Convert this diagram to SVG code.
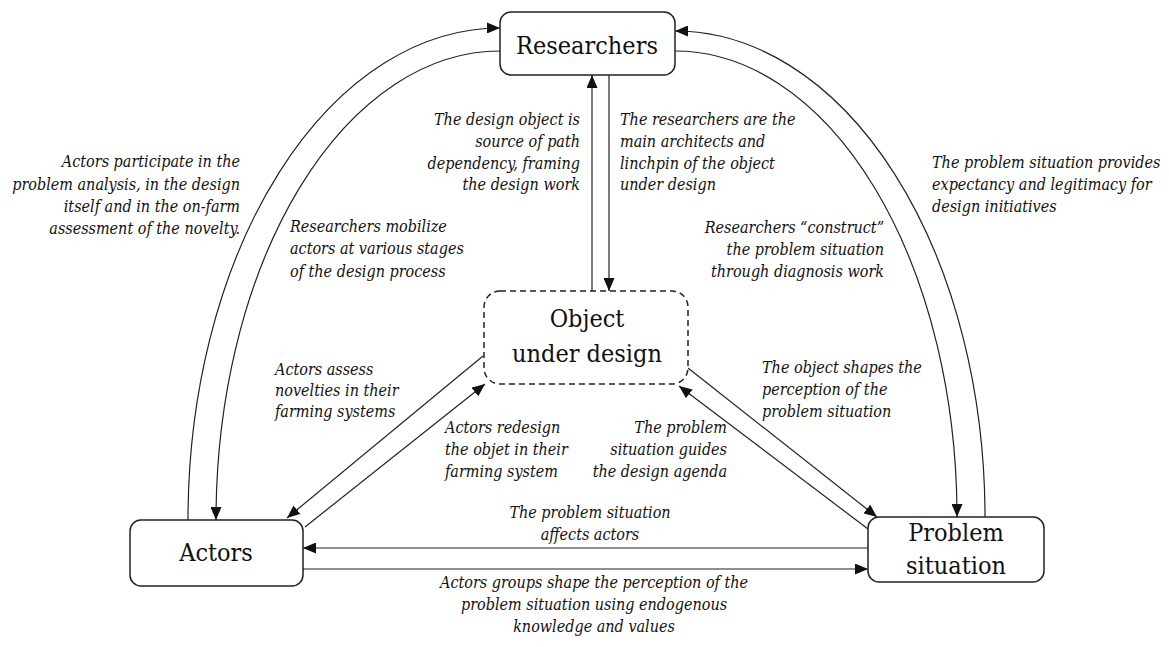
<svg xmlns="http://www.w3.org/2000/svg" width="1169" height="647" viewBox="0 0 1169 647">
<style>
.box{fill:#fff;stroke:#222;stroke-width:1.5}
.dash{fill:#fff;stroke:#222;stroke-width:1.5;stroke-dasharray:6,4}
.nt{font-size:25px;fill:#111;text-anchor:middle}
.lb{font-size:16px;font-style:italic;fill:#111}
.r{text-anchor:end}
.m{text-anchor:middle}
.c{fill:none;stroke:#222;stroke-width:1.2;marker-end:url(#ah)}
</style>
<defs>
<marker id="ah" markerUnits="userSpaceOnUse" markerWidth="13" markerHeight="11" refX="13" refY="5.5" orient="auto">
<path d="M0,0 L13,5.5 L0,11 z" fill="#111"/>
</marker>
</defs>
<g id="connectors">
<path class="c" d="M188,520 A312,492 0 0 1 500,28"/>
<path class="c" d="M500,51 A284,469 0 0 0 216,520"/>
<path class="c" d="M985,517 A310,486 0 0 0 675,31"/>
<path class="c" d="M675,51 A282,466 0 0 1 957,517"/>
<path class="c" d="M592,291 L592,75"/>
<path class="c" d="M609,75 L609,291"/>
<path class="c" d="M483,356 L287,518"/>
<path class="c" d="M305,527 L485,384"/>
<path class="c" d="M688,368 L877,517"/>
<path class="c" d="M868,529 L679,386"/>
<path class="c" d="M868,548 L303,548"/>
<path class="c" d="M303,569 L868,569"/>
</g>
<g font-family="'DejaVu Serif Condensed', 'DejaVu Serif', serif">
<g id="researchers">
<rect class="box" x="500" y="12" width="175" height="63" rx="11"/>
<text class="nt" x="587" y="54">Researchers</text>
</g>
<g id="object">
<rect class="dash" x="484" y="291" width="204" height="93" rx="16"/>
<text class="nt" x="587" y="327">Object</text>
<text class="nt" x="587" y="362">under design</text>
</g>
<g id="actors">
<rect class="box" x="130" y="520" width="173" height="66" rx="11"/>
<text class="nt" x="216" y="561">Actors</text>
</g>
<g id="problem">
<rect class="box" x="868" y="517" width="176" height="65" rx="11"/>
<text class="nt" x="956" y="541">Problem</text>
<text class="nt" x="956" y="574">situation</text>
</g>
<g id="labels">
<text class="lb r" x="240" y="167">Actors participate in the</text>
<text class="lb r" x="240" y="190">problem analysis, in the design</text>
<text class="lb r" x="240" y="212">itself and in the on-farm</text>
<text class="lb r" x="240" y="234">assessment of the novelty.</text>

<text class="lb r" x="580" y="125">The design object is</text>
<text class="lb r" x="580" y="147">source of path</text>
<text class="lb r" x="580" y="169">dependency, framing</text>
<text class="lb r" x="580" y="190">the design work</text>

<text class="lb" x="620" y="125">The researchers are the</text>
<text class="lb" x="620" y="147">main architects and</text>
<text class="lb" x="620" y="169">linchpin of the object</text>
<text class="lb" x="620" y="190">under design</text>

<text class="lb" x="290" y="232">Researchers mobilize</text>
<text class="lb" x="290" y="254">actors at various stages</text>
<text class="lb" x="290" y="277">of the design process</text>

<text class="lb r" x="884" y="233">Researchers “construct”</text>
<text class="lb r" x="884" y="255">the problem situation</text>
<text class="lb r" x="884" y="277">through diagnosis work</text>

<text class="lb" x="932" y="168">The problem situation provides</text>
<text class="lb" x="932" y="190">expectancy and legitimacy for</text>
<text class="lb" x="932" y="212">design initiatives</text>

<text class="lb" x="275" y="375">Actors assess</text>
<text class="lb" x="275" y="396">novelties in their</text>
<text class="lb" x="275" y="417">farming systems</text>

<text class="lb" x="445" y="433">Actors redesign</text>
<text class="lb" x="445" y="455">the objet in their</text>
<text class="lb" x="445" y="477">farming system</text>

<text class="lb r" x="727" y="433">The problem</text>
<text class="lb r" x="727" y="455">situation guides</text>
<text class="lb r" x="727" y="477">the design agenda</text>

<text class="lb" x="762" y="373">The object shapes the</text>
<text class="lb" x="762" y="395">perception of the</text>
<text class="lb" x="762" y="417">problem situation</text>

<text class="lb m" x="590" y="518">The problem situation</text>
<text class="lb m" x="590" y="540">affects actors</text>

<text class="lb m" x="594" y="588">Actors groups shape the perception of the</text>
<text class="lb m" x="594" y="610">problem situation using endogenous</text>
<text class="lb m" x="594" y="632">knowledge and values</text>
</g>
</g>
</svg>
